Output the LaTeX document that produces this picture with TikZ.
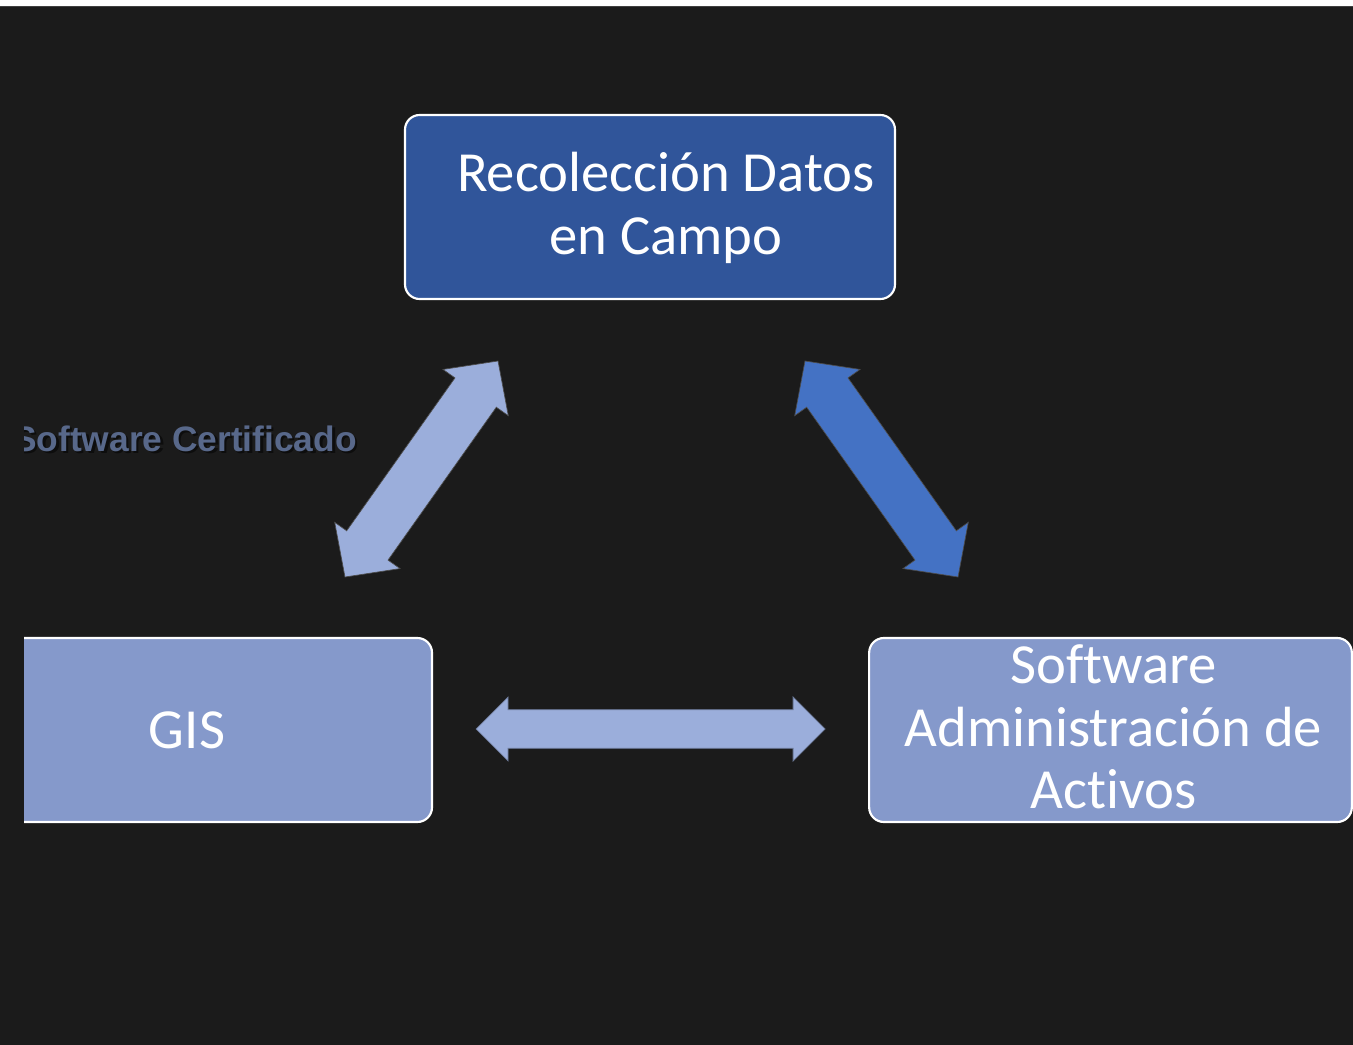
\documentclass[tikz,border=0pt]{standalone}
\usepackage{fontspec}
\usepackage{tikz}
\usetikzlibrary{positioning}
\usetikzlibrary{calc}
\newfontfamily\boxfont[Ligatures = NoCommon]{Carlito}
\newfontfamily\tagfont{Liberation Sans}

\definecolor{bgdark}{HTML}{1B1B1B}
\definecolor{fielddark}{HTML}{30559A}
\definecolor{softlight}{HTML}{8599CB}
\definecolor{arrowlight}{HTML}{9BAEDB}
\definecolor{arrowblue}{HTML}{4472C4}
\definecolor{taggrey}{HTML}{58688A}

\tikzstyle{block} = [draw = white, line width = 1.6pt, rectangle, rounded corners = 11pt, minimum width = 367.5pt, minimum height = 138pt, inner sep = 0pt]
\tikzstyle{blocktext} = [text = white, font = \boxfont\fontsize{42.5}{47}\selectfont, align = center]
\tikzstyle{tag} = [font = \tagfont\bfseries\fontsize{26.5}{30}\selectfont, anchor = base]

% Double block arrow: from, to, shaft half width, head half width, head length, style
\newcommand{\fatarrow}[6]{%
	\filldraw[#6] (#1)
	-- ($(#1)!#5!(#2)!#4!90:(#2)$)
	-- ($(#1)!#5!(#2)!#3!90:(#2)$)
	-- ($(#2)!#5!(#1)!#3!90:(#2)$)
	-- ($(#2)!#5!(#1)!#4!90:(#2)$)
	-- (#2)
	-- ($(#2)!#5!(#1)!#4!-90:(#2)$)
	-- ($(#2)!#5!(#1)!#3!-90:(#2)$)
	-- ($(#1)!#5!(#2)!#3!-90:(#2)$)
	-- ($(#1)!#5!(#2)!#4!-90:(#2)$)
	-- cycle;}

\begin{document}
\begin{tikzpicture}[x = 0.75pt, y = -0.75pt]
	
		% Background with the light strip on top
		\fill[bgdark] (0,0) rectangle (1353,1045);
		\fill[white] (0,0) rectangle (1353,6);
		\fill[black!75] (0,6) rectangle (1353,7.5);
		\useasboundingbox (0,0) rectangle (1353,1045);
		
		\begin{scope}
		\clip (24,7.5) rectangle (1353,1045);
		
		% Field data block
		\node[block, fill = fielddark] (campo) at (650,207) {};
		\node[blocktext] (campotext) at ($(campo.center) + (16,1)$) {Recolección Datos\\en Campo};
		
		% GIS block
		\node[block, blocktext, fill = softlight] (gis) at (187,730) {GIS};
		
		% Asset management block
		\node[block, fill = softlight, minimum width = 362pt] (activos) at (1110.5,730) {};
		\node[blocktext] (activostext) at ($(activos.center) + (3,-3)$) {Software\\Administración de\\Activos};
		
		% Side label
		\node[tag, text = black!95] at (187.5,453.5) {Software Certificado};
		\node[tag, text = taggrey] (certificado) at (185,451) {Software Certificado};
		
		% Arrow ends
		\coordinate (gisr) at ($(gis.east) + (43,-1)$);
		\coordinate (activosl) at ($(activos.west) + (-43,-1)$);
		\coordinate (gisn) at (345,577);
		\coordinate (camposw) at (498,361);
		\coordinate (campose) at (805,361);
		\coordinate (activosn) at (958,577);
		
		% Connect the blocks
		\fatarrow{gisn}{camposw}{19pt}{30pt}{29pt}{fill = arrowlight, draw = black!70, line width = 0.5pt}
		\fatarrow{campose}{activosn}{19pt}{30pt}{29pt}{fill = arrowblue, draw = black!70, line width = 0.5pt}
		\fatarrow{gisr}{activosl}{14.5pt}{24pt}{24pt}{fill = arrowlight, draw = arrowlight!70!black, line width = 0.6pt}
		
		\end{scope}
	
	\end{tikzpicture}
\end{document}
